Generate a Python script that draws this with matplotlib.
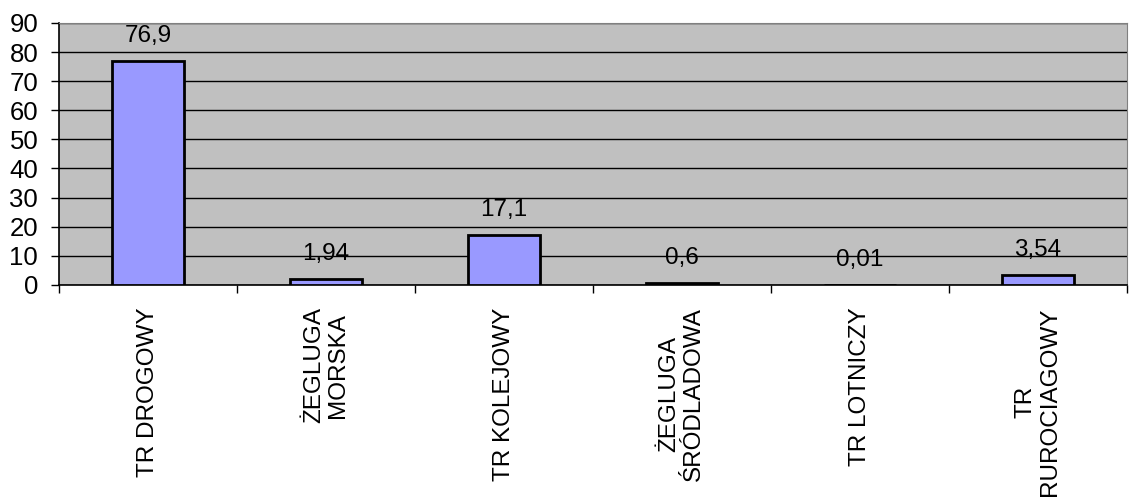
import matplotlib.pyplot as plt

# Dane
kategorie = ['TR DROGOWY', 'ŻEGLUGA\nMORSKA', 'TR KOLEJOWY', 'ŻEGLUGA\nŚRÓDLADOWA',
             'TR LOTNICZY', 'TR\nRUROCIAGOWY']
wartosci = [76.9, 1.94, 17.1, 0.6, 0.01, 3.54]
y_ticks = list(range(0, 91, 10))

plt.rcParams['font.family'] = ['Liberation Sans', 'DejaVu Sans']

fig = plt.figure(figsize=(11.36, 4.99), dpi=100)
ax = fig.add_axes([0.052, 0.429, 0.94, 0.525])
ax.set_facecolor('#C0C0C0')

x = list(range(len(kategorie)))
ax.bar(x, wartosci, width=0.4, color='#9999FF', edgecolor='black', linewidth=2, zorder=3)

# Etykiety wartości
for xi, v in zip(x, wartosci):
    ax.annotate(str(v).replace('.', ','), (xi, v), xytext=(0, 10), textcoords='offset points',
                ha='center', va='bottom', fontsize=17.5)

ax.set_xlim(-0.5, len(kategorie) - 0.5)
ax.set_ylim(0, 90)
ax.set_yticks(y_ticks)
ax.set_yticklabels([str(t) for t in y_ticks], fontsize=18.5)
ax.yaxis.grid(True, color='black', linewidth=1, zorder=0)
ax.set_axisbelow(True)

# Etykiety kategorii
ax.set_xticks(x)
ax.set_xticklabels(kategorie, rotation=90, fontsize=17.5, va='top', ha='center',
                   multialignment='center', linespacing=1.15)
ax.tick_params(axis='x', length=0, pad=16)
ax.set_xticks([i - 0.5 for i in range(len(kategorie) + 1)], minor=True)
ax.tick_params(axis='x', which='minor', length=6, width=1, color='black')
ax.tick_params(axis='y', length=6, width=1, pad=9)

for s in ['top', 'right']:
    ax.spines[s].set_color('#808080')
for s in ['left', 'bottom']:
    ax.spines[s].set_color('black')
    ax.spines[s].set_linewidth(1.2)

fig.savefig('out.png', dpi=100)
